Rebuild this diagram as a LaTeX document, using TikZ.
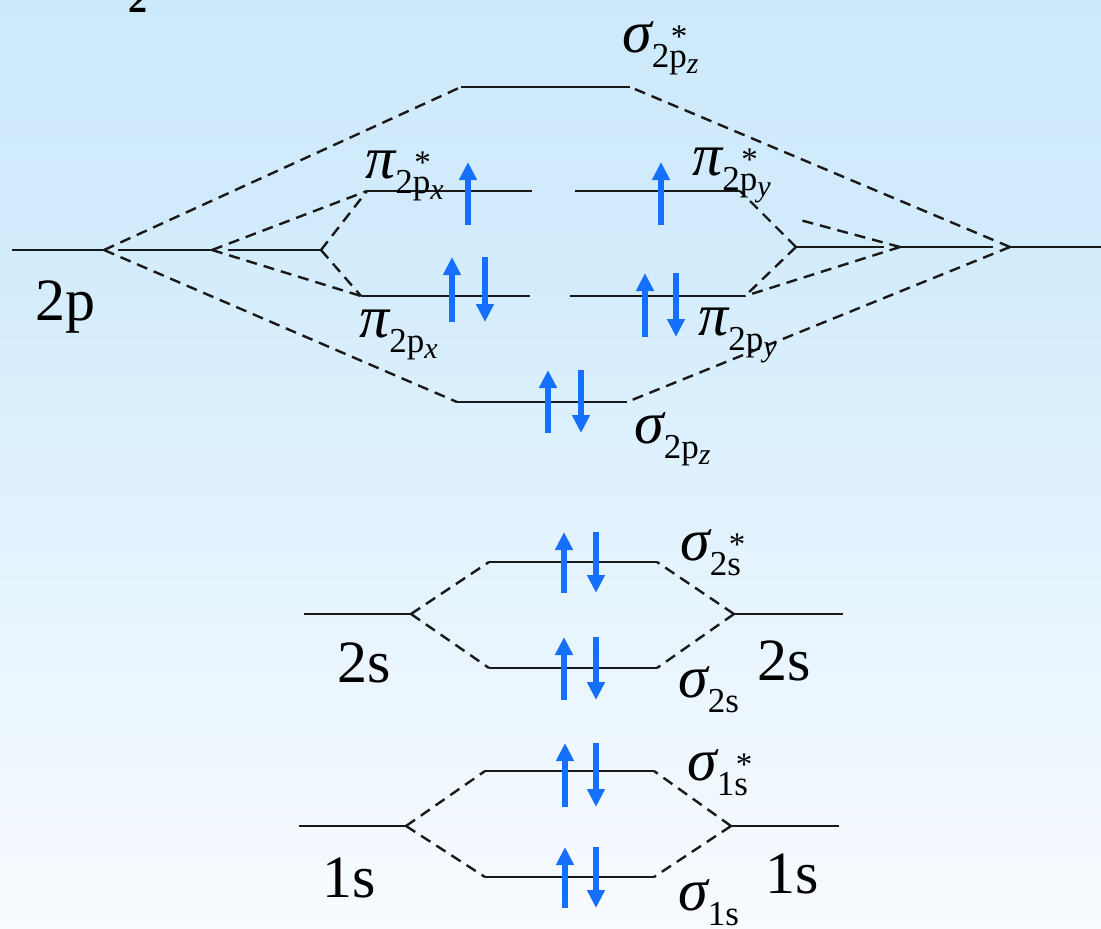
\documentclass[tikz,border=0pt]{standalone}
\usepackage{fontspec}
\setmainfont{Liberation Serif}
\usetikzlibrary{arrows.meta}
\definecolor{elec}{RGB}{22,112,255}
\definecolor{bgtop}{RGB}{204,233,251}
\definecolor{bgupper}{RGB}{212,236,252}
\definecolor{bgmid}{RGB}{228,243,253}
\definecolor{bgbot}{RGB}{248,251,255}
\definecolor{ink}{RGB}{25,25,25}
\pgfdeclareverticalshading{bgshade}{100bp}{color(0bp)=(bgbot); color(25bp)=(bgbot); color(45bp)=(bgmid); color(60bp)=(bgupper); color(75bp)=(bgtop); color(100bp)=(bgtop)}
% molecular orbital label: #1 greek letter, #2 superscript, #3 subscript, #4 sub-subscript
\newcommand\molab[4]{{\itshape #1}\rlap{\raisebox{-15pt}{\fontsize{35}{35}\selectfont #3\raisebox{-6pt}{\fontsize{30}{30}\selectfont\itshape #4}}}\raisebox{5pt}{\fontsize{33}{33}\selectfont\hspace{19pt}#2}}
\begin{document}
\begin{tikzpicture}[x=1pt,y=-1pt,
  lvl/.style={line width=2.5pt, ink},
  dsh/.style={line width=2.4pt, ink, dash pattern=on 11pt off 7pt},
  spin/.style={line width=5.5pt, elec, -{Triangle[width=17pt,length=18pt]}},
  lab/.style={anchor=base west, inner sep=0pt, font=\fontsize{60}{72}\selectfont},
]
\useasboundingbox (0,0) rectangle (1101,929);
\shade[shading=bgshade] (0,0) rectangle (1101,929);

% cut-off title fragment
\node[lab, font=\fontsize{38}{46}\selectfont\bfseries] (frag) at (128,12) {2};

% ---------- 2p atomic levels (left) ----------
\coordinate (L1a) at (12,250);  \coordinate (L1b) at (104,250);
\coordinate (L2a) at (118,250); \coordinate (L2b) at (212,250);
\coordinate (L3a) at (228,250); \coordinate (L3b) at (321,250);
\draw[lvl] (L1a) -- (L1b);
\draw[lvl] (L2a) -- (L2b);
\draw[lvl] (L3a) -- (L3b);

% ---------- 2p atomic levels (right) ----------
\coordinate (R3a) at (796,247);  \coordinate (R3b) at (884,247);
\coordinate (R2a) at (900,247);  \coordinate (R2b) at (993,247);
\coordinate (R1a) at (1010,247); \coordinate (R1b) at (1101,247);
\coordinate (Rfree) at (800,220);
\draw[lvl] (R3a) -- (R3b);
\draw[lvl] (R2a) -- (R2b);
\draw[lvl] (R1a) -- (R1b);

% ---------- 2p molecular levels ----------
\coordinate (sSa) at (461,87);  \coordinate (sSb) at (630,87);
\coordinate (pSxa) at (367,191); \coordinate (pSxb) at (532,191);
\coordinate (pSya) at (575,191); \coordinate (pSyb) at (740,191);
\coordinate (pxa) at (361,296); \coordinate (pxb) at (530,296);
\coordinate (pya) at (570,296); \coordinate (pyb) at (745,296);
\coordinate (sPa) at (457,402); \coordinate (sPb) at (627,402);
\draw[lvl] (sSa) -- (sSb);
\draw[lvl] (pSxa) -- (pSxb);
\draw[lvl] (pSya) -- (pSyb);
\draw[lvl] (pxa) -- (pxb);
\draw[lvl] (pya) -- (pyb);
\draw[lvl] (sPa) -- (sPb);

% dashed correlation lines, 2p
\draw[dsh] (L1b) -- (sSa);
\draw[dsh] (L1b) -- (sPa);
\draw[dsh] (L2b) -- (pSxa);
\draw[dsh] (L2b) -- (pxa);
\draw[dsh] (L3b) -- (pSxa);
\draw[dsh] (L3b) -- (pxa);
\draw[dsh] (R1a) -- (sSb);
\draw[dsh] (R1a) -- (sPb);
\draw[dsh] (R2a) -- (Rfree);
\draw[dsh] (R2a) -- (pyb);
\draw[dsh] (R3a) -- (pSyb);
\draw[dsh] (R3a) -- (pyb);

% ---------- 2s ----------
\coordinate (s2La) at (304,614); \coordinate (s2Lb) at (411,614);
\coordinate (s2Ra) at (734,614); \coordinate (s2Rb) at (843,614);
\coordinate (s2Sa) at (489,562); \coordinate (s2Sb) at (657,562);
\coordinate (s2a) at (489,668);  \coordinate (s2b) at (657,668);
\draw[lvl] (s2La) -- (s2Lb);
\draw[lvl] (s2Ra) -- (s2Rb);
\draw[lvl] (s2Sa) -- (s2Sb);
\draw[lvl] (s2a) -- (s2b);
\draw[dsh] (s2Lb) -- (s2Sa);
\draw[dsh] (s2Lb) -- (s2a);
\draw[dsh] (s2Ra) -- (s2Sb);
\draw[dsh] (s2Ra) -- (s2b);

% ---------- 1s ----------
\coordinate (s1La) at (299,826); \coordinate (s1Lb) at (406,826);
\coordinate (s1Ra) at (731,826); \coordinate (s1Rb) at (839,826);
\coordinate (s1Sa) at (485,771); \coordinate (s1Sb) at (654,771);
\coordinate (s1a) at (485,877);  \coordinate (s1b) at (654,877);
\draw[lvl] (s1La) -- (s1Lb);
\draw[lvl] (s1Ra) -- (s1Rb);
\draw[lvl] (s1Sa) -- (s1Sb);
\draw[lvl] (s1a) -- (s1b);
\draw[dsh] (s1Lb) -- (s1Sa);
\draw[dsh] (s1Lb) -- (s1a);
\draw[dsh] (s1Ra) -- (s1Sb);
\draw[dsh] (s1Ra) -- (s1b);

% ---------- electrons ----------
\coordinate (e1t) at (468,225); \coordinate (e1h) at (468,162);
\coordinate (e2t) at (661,225); \coordinate (e2h) at (661,162);
\coordinate (e3t) at (452,322); \coordinate (e3h) at (452,257);
\coordinate (e4t) at (485,257); \coordinate (e4h) at (485,322);
\coordinate (e5t) at (645,337); \coordinate (e5h) at (645,273);
\coordinate (e6t) at (676,273); \coordinate (e6h) at (676,337);
\coordinate (e7t) at (548,433); \coordinate (e7h) at (548,370);
\coordinate (e8t) at (581,370); \coordinate (e8h) at (581,433);
\coordinate (e9t) at (564,593); \coordinate (e9h) at (564,532);
\coordinate (e10t) at (596,532); \coordinate (e10h) at (596,593);
\coordinate (e11t) at (564,700); \coordinate (e11h) at (564,637);
\coordinate (e12t) at (596,637); \coordinate (e12h) at (596,700);
\coordinate (e13t) at (565,807); \coordinate (e13h) at (565,743);
\coordinate (e14t) at (596,743); \coordinate (e14h) at (596,807);
\coordinate (e15t) at (565,908); \coordinate (e15h) at (565,847);
\coordinate (e16t) at (596,847); \coordinate (e16h) at (596,908);
\foreach \i in {1,...,16} \draw[spin] (e\i t) -- (e\i h);

% ---------- labels ----------
\node[lab] (t2p)  at (35,320)  {2p};
\node[lab] (t2sL) at (337,682) {2s};
\node[lab] (t2sR) at (757,680) {2s};
\node[lab] (t1sL) at (322,897) {1s};
\node[lab] (t1sR) at (765,893) {1s};

\node[lab] (lsS)  at (622,52)  {\molab{σ}{*}{2p}{z}};
\node[lab] (lpSx) at (365,178) {\molab{π}{*}{2p}{x}};
\node[lab] (lpSy) at (692,175) {\molab{π}{*}{2p}{y}};
\node[lab] (lpx)  at (359,337) {\molab{π}{}{2p}{x}};
\node[lab] (lpy)  at (698,335) {\molab{π}{}{2p}{y}};
\node[lab] (lsP)  at (634,443) {\molab{σ}{}{2p}{z}};
\node[lab] (ls2S) at (680,560) {\molab{σ}{*}{2s}{}};
\node[lab] (ls2)  at (678,697) {\molab{σ}{}{2s}{}};
\node[lab] (ls1S) at (687,780) {\molab{σ}{*}{1s}{}};
\node[lab] (ls1)  at (678,910) {\molab{σ}{}{1s}{}};
\end{tikzpicture}
\end{document}
